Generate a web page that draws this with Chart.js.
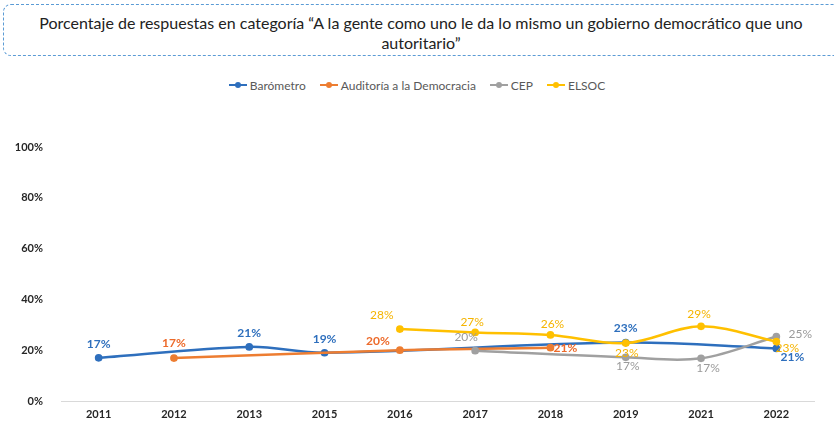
<!DOCTYPE html>
<html>
<head>
<meta charset="utf-8">
<script src="https://cdn.jsdelivr.net/npm/chart.js@4"></script>
<style>
  html, body { margin: 0; padding: 0; background: #fff; }
  body { width: 834px; height: 422px; position: relative; overflow: hidden; font-family: Lato, "Noto Sans", sans-serif; }
  #title {
    position: absolute; left: 3px; top: 4px; width: 840px; height: 52px;
    border: 1px dashed #5b9bd5; border-radius: 8px; box-sizing: border-box;
  }
  #title div {
    position: absolute; left: 0; width: 834px; text-align: center;
    font-size: 16px; color: #222; line-height: 20px;
  }
  #legend {
    position: absolute; left: 0; top: 77px; width: 834px; height: 16px;
    display: flex; justify-content: center; align-items: center;
    font-size: 12px; color: #595959;
  }
  .item { display: flex; align-items: center; margin: 0 7px; }
  .mark { position: relative; width: 18px; height: 2px; margin-right: 3px; }
  .mark span { position: absolute; left: 6px; top: -2px; width: 6px; height: 6px; border-radius: 50%; }
  canvas { position: absolute; left: 0; top: 0; }
</style>
</head>
<body>
<div id="title">
  <div style="top:8px">Porcentaje de respuestas en categoría “A la gente como uno le da lo mismo un gobierno democrático que uno</div>
  <div style="top:28px">autoritario”</div>
</div>
<div id="legend"></div>
<canvas id="chart" width="834" height="422"></canvas>
<script>
// años (categorías)
const years = ['2011', '2012', '2013', '2015', '2016', '2017', '2018', '2019', '2021', '2022'];
const seriesNames = ['Barómetro', 'Auditoría a la Democracia', 'CEP', 'ELSOC'];
const barometro = [17, null, 21.3, 19, null, null, null, 23, null, 20.7];
const auditoria = [null, 16.9, null, null, 20, null, 21, null, null, null];
const cep = [null, null, null, null, null, 19.8, null, 17.2, 16.8, 25.4];
const elsoc = [null, null, null, null, 28.3, 27, 26, 22.8, 29.4, 23.4];
const yTicks = [0, 20, 40, 60, 80, 100];

const colors = ['#2e6fbd', '#ed7d31', '#a0a0a0', '#ffc000'];
const labelColors = ['#2e6fbd', '#ed6a2a', '#9a9a9a', '#f5b400'];
const labelBold = [true, true, false, false];
// desplazamiento de las etiquetas respecto al punto [dx, dy]
const labelOffsets = [
    [[0, -14], null, [0, -14], [0, -14], null, null, null, [0, -14], null, [16, 9]],
    [null, [0, -15], null, null, [-22, -9], null, [15, 0], null, null, null],
    [null, null, null, null, null, [-9, -14], null, [2, 9], [7, 10], [24, -2]],
    [null, null, null, null, [-18, -14], [-3, -10], [2, -11], [1, 10], [-2, -12], [11, 7]]
];
const allData = [barometro, auditoria, cep, elsoc];

// Leyenda
const legend = document.getElementById('legend');
seriesNames.forEach((name, i) => {
    const item = document.createElement('div');
    item.className = 'item';
    item.innerHTML = `<div class="mark" style="background:${colors[i]}"><span style="background:${colors[i]}"></span></div>${name}`;
    legend.appendChild(item);
});

const labelPlugin = {
    id: 'valueLabels',
    afterDatasetsDraw(chart) {
        const ctx = chart.ctx;
        chart.data.datasets.forEach((ds, i) => {
            const meta = chart.getDatasetMeta(i);
            meta.data.forEach((pt, j) => {
                const v = ds.data[j];
                const off = labelOffsets[i][j];
                if (v === null || !off) return;
                ctx.save();
                ctx.font = (labelBold[i] ? 'bold ' : '') + '12px Lato, sans-serif';
                ctx.fillStyle = labelColors[i];
                ctx.textAlign = 'center';
                ctx.textBaseline = 'middle';
                ctx.fillText(Math.round(v) + '%', pt.x + off[0], pt.y + off[1]);
                ctx.restore();
            });
        });
    }
};

new Chart(document.getElementById('chart').getContext('2d'), {
    type: 'line',
    data: {
        labels: years,
        datasets: allData.map((d, i) => ({
            label: seriesNames[i],
            data: d,
            borderColor: colors[i],
            backgroundColor: colors[i],
            borderWidth: 2.5,
            pointRadius: 2.6,
            pointHoverRadius: 2.6,
            tension: 0.35,
            spanGaps: true,
            order: 4 - i
        }))
    },
    options: {
        responsive: false,
        animation: false,
        layout: { padding: { left: 0, right: 20, top: 147, bottom: 0 } },
        plugins: { legend: { display: false }, tooltip: { enabled: false } },
        scales: {
            x: {
                offset: true,
                grid: { display: true, drawOnChartArea: false, drawTicks: false },
                border: { display: true, color: '#d9d9d9', width: 1 },
                ticks: { padding: 7, color: '#262626', font: { family: 'Lato', size: 11, weight: 'bold' } },
                afterFit: s => { s.height = 21; }
            },
            y: {
                min: 0,
                max: 100,
                afterBuildTicks: s => { s.ticks = yTicks.map(v => ({ value: v })); },
                grid: { display: false },
                border: { display: false },
                ticks: {
                    padding: 10,
                    color: '#262626',
                    font: { family: 'Lato', size: 11, weight: 'bold' },
                    callback: v => v + '%'
                },
                afterFit: s => { s.width = 61; }
            }
        }
    },
    plugins: [labelPlugin]
});
</script>
</body>
</html>
